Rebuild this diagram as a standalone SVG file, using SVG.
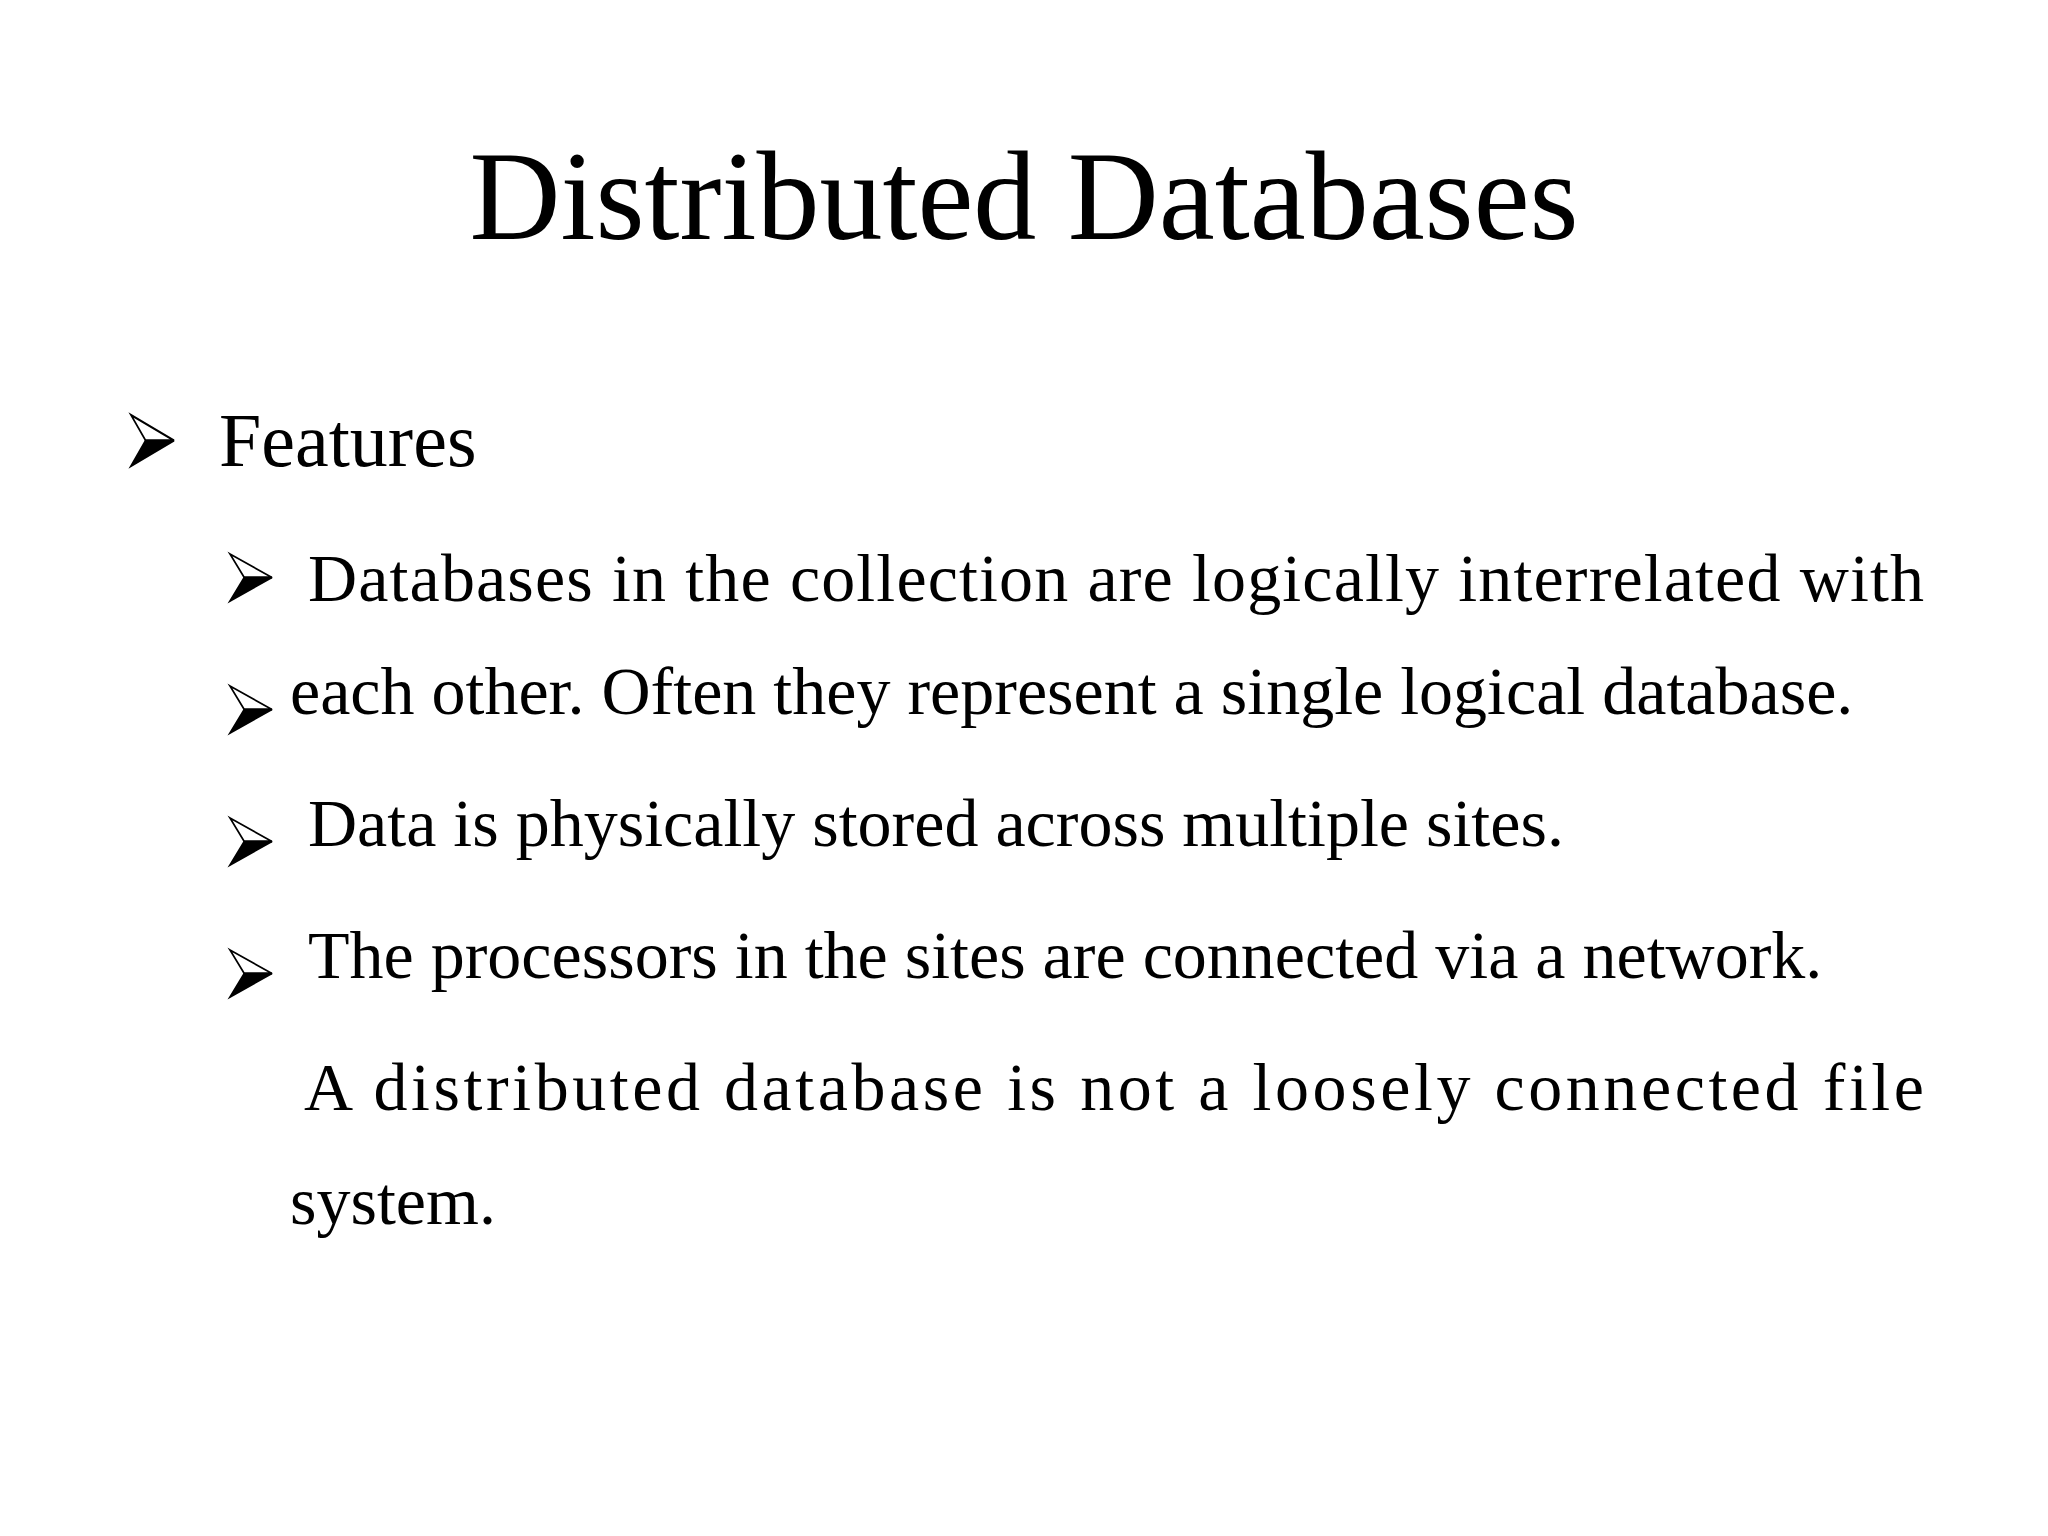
<svg xmlns="http://www.w3.org/2000/svg" width="2048" height="1536" viewBox="0 0 2048 1536">
<style>
text{font-family:"Liberation Serif","Times New Roman",serif;fill:#000}
.b{font-size:68px}
</style>
<defs>
<g id="arr">
<polygon points="0,0 1,0.5 0.34,0.5" fill="#fff" stroke="#000" stroke-width="0.04"/>
<polygon points="0.34,0.5 1,0.5 0,1" fill="#000" stroke="#000" stroke-width="0.04"/>
</g>
</defs>
<rect width="2048" height="1536" fill="#fff"/>
<text x="1024" y="239" font-size="126" text-anchor="middle">Distributed Databases</text>
<use href="#arr" transform="translate(131,415) scale(43,51)"/>
<text x="219" y="466" font-size="76">Features</text>
<use href="#arr" transform="translate(230,554) scale(42,47)"/>
<text class="b" x="308" y="601" textLength="1616" lengthAdjust="spacing">Databases in the collection are logically interrelated with</text>
<text class="b" x="290" y="714">each other. Often they represent a single logical database.</text>
<use href="#arr" transform="translate(230,686) scale(42,47)"/>
<text class="b" x="308" y="846">Data is physically stored across multiple sites.</text>
<use href="#arr" transform="translate(230,818) scale(42,47)"/>
<text class="b" x="308" y="978">The processors in the sites are connected via a network.</text>
<use href="#arr" transform="translate(230,950) scale(42,47)"/>
<text class="b" x="304" y="1110" textLength="1620" lengthAdjust="spacing">A distributed database is not a loosely connected file</text>
<text class="b" x="290" y="1224">system.</text>
</svg>
